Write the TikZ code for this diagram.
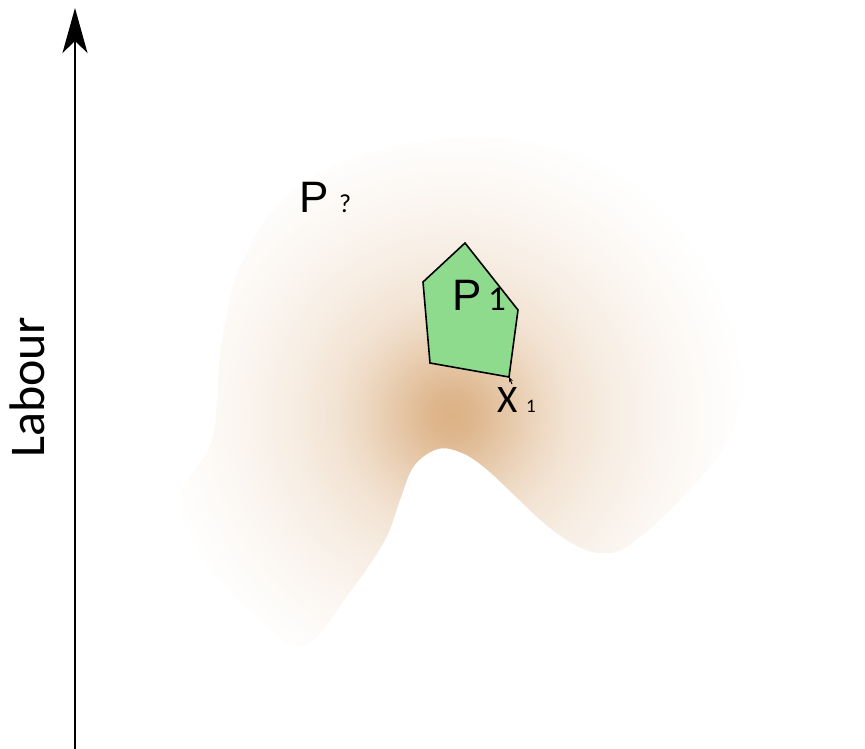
\documentclass[tikz,border=0pt]{standalone}
\usepackage{fontspec}
\setmainfont{Liberation Sans}
\newfontfamily\carlito{Carlito}
\usetikzlibrary{arrows.meta}
\definecolor{bc}{RGB}{220,178,134}
\definecolor{polyfill}{RGB}{142,219,142}
\pgfdeclareradialshading{blobshade}{\pgfpoint{0bp}{0bp}}{%
  color(0bp)=(bc);
  color(2bp)=(bc!93!white);
  color(4bp)=(bc!77!white);
  color(6bp)=(bc!61!white);
  color(8bp)=(bc!46!white);
  color(10bp)=(bc!35!white);
  color(12.5bp)=(bc!26!white);
  color(15bp)=(bc!19!white);
  color(17bp)=(bc!14!white);
  color(19.5bp)=(bc!9!white);
  color(22bp)=(bc!4!white);
  color(25bp)=(white);
  color(50bp)=(white)}
\tikzset{
  lbl/.style={inner sep=0pt, anchor=base west, text=black},
  axisline/.style={line width=1.6pt, -{Stealth[length=45pt,width=25pt,inset=12pt]}},
  polyline/.style={line width=1.6pt, fill=polyfill, line join=miter},
}
\begin{document}
\begin{tikzpicture}[x=1pt,y=-1pt]
\useasboundingbox (0,0) rectangle (865,749);
% blob
\begin{scope}
\clip plot[smooth cycle, tension=0.6] coordinates {
  (438,449) (462,453) (485,468) (512,493) (545,524) (575,545) (600,553)
  (628,546) (680,500) (728,440) (745,370) (715,270) (640,180) (520,140)
  (400,145) (300,185) (245,255) (222,340) (212,440) (180,497) (205,565)
  (255,615) (303,646) (350,592) (385,540) (400,500) (414,466)};
\path[shading=blobshade] (452,415) circle (300);
\end{scope}
% axis
\coordinate (ybot) at (75,749);
\coordinate (ytop) at (75,8);
\draw[axisline] (ybot) -- (ytop);
\node[lbl, rotate=90, font=\carlito\fontsize{50}{56}\selectfont] (lab) at (44,458) {Labour};
% polygon P1
\coordinate (v1) at (465,243);
\coordinate (v2) at (423,282);
\coordinate (v3) at (430,363);
\coordinate (v4) at (509,377);
\coordinate (v5) at (518,310);
\draw[polyline] (v1) -- (v2) -- (v3) -- (v4) -- (v5) -- cycle;
% labels
\node[lbl, font=\fontsize{44}{50}\selectfont] (pq) at (299,212) {P};
\node[lbl, font=\carlito\fontsize{26}{30}\selectfont] (pqs) at (339,212) {?};
\node[lbl, font=\fontsize{44}{50}\selectfont] (p1) at (452,310) {P};
\node[lbl, font=\carlito\fontsize{35}{40}\selectfont] (p1s) at (488,310) {1};
\node[lbl, font=\carlito\fontsize{39}{44}\selectfont] (x1) at (497,412) {X};
\node[lbl, font=\carlito\fontsize{19}{22}\selectfont] (x1s) at (526,412) {1};
\coordinate (xt) at (512,384);
\draw[line width=1pt, -{Stealth[length=5pt,width=4pt]}] (xt) -- (v4);
\end{tikzpicture}
\end{document}
